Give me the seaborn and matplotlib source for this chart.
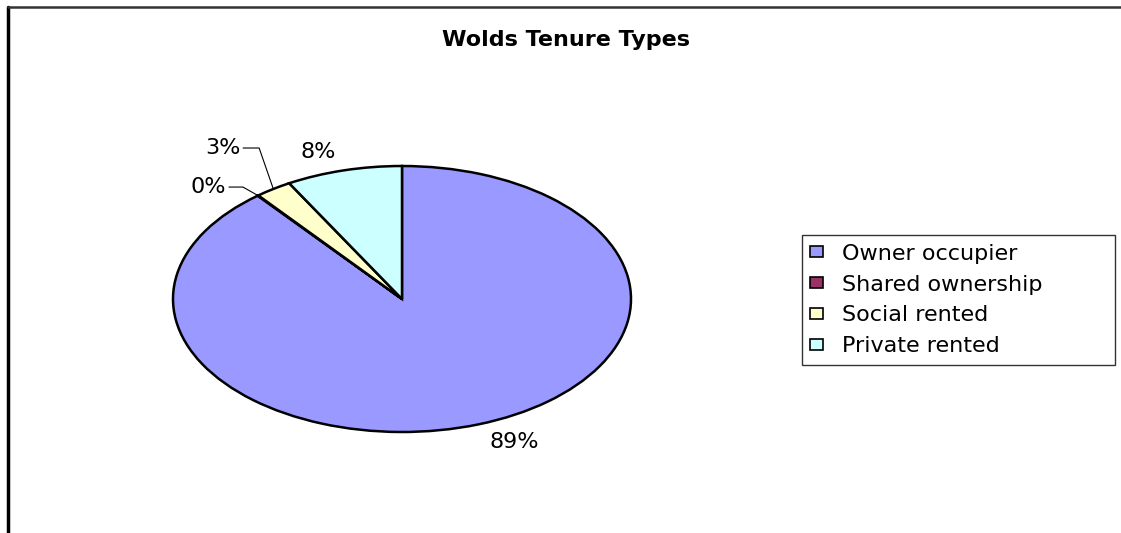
import numpy as np
import matplotlib
matplotlib.use("Agg")
import matplotlib.pyplot as plt
from matplotlib.lines import Line2D
import seaborn as sns

# data
tenure = ["Owner occupier", "Shared ownership", "Social rented", "Private rented"]
share = [89.2, 0.05, 2.6, 8.2]
colours = ["#9999FF", "#993366", "#FFFFCC", "#CCFFFF"]

sns.set_theme(style="white")
plt.rcParams["font.family"] = ["DejaVu Sans"]
plt.rcParams["text.color"] = "black"

W, H = 1121, 533
fig = plt.figure(figsize=(W / 100, H / 100), dpi=100)

# pie is drawn as an ellipse (Excel chart was stretched), radius 1 -> 229 x 133 px
ax = fig.add_axes([58.5 / W, 34.5 / H, 687 / W, 399 / H])
wedges, _ = ax.pie(share, colors=colours, startangle=90, counterclock=False,
                   wedgeprops=dict(edgecolor="black", linewidth=1.8))
ax.set_xlim(-1.5, 1.5)
ax.set_ylim(-1.5, 1.5)
ax.set_aspect("auto")
ax.axis("off")

# leader line offsets for the thin slices (data units: dx/229px, dy/133px)
leaders = {"Social rented": (-0.062, 0.308, -0.07),
           "Shared ownership": (-0.066, 0.064, -0.061)}

for w, name, v in zip(wedges, tenure, share):
    mid = np.deg2rad((w.theta1 + w.theta2) / 2)
    c, s = np.cos(mid), np.sin(mid)
    txt = f"{round(v)}%"
    if name in leaders:
        dx, dy, run = leaders[name]
        x0, y0 = c, s
        x1, y1 = x0 + dx, y0 + dy
        x2 = x1 + run
        ax.plot([x0, x1, x2], [y0, y1, y1], color="black", lw=0.8, clip_on=False)
        ax.text(x2 - 0.012, y1, txt, ha="right", va="center", fontsize=16)
    else:
        ax.text(1.14 * c, 1.14 * s, txt, ha="left" if c > 0 else "right",
                va="center", fontsize=16)

fig.text(566 / W, (H - 40) / H, "Wolds Tenure Types", ha="center", va="center",
         fontsize=16, fontweight="bold")

leg = fig.legend(wedges, tenure, loc="center left",
                 bbox_to_anchor=(802 / W, 168 / H, 313 / W, 130 / H),
                 mode="expand", borderaxespad=0, fontsize=16,
                 handlelength=0.58, handleheight=0.4, handletextpad=0.85,
                 labelspacing=0.49, borderpad=0.38, fancybox=False)
leg.get_frame().set_edgecolor("black")
leg.get_frame().set_linewidth(1.0)
for h in leg.legend_handles:
    h.set_linewidth(1.2)

# chart area border (left and top edges visible)
fig.add_artist(Line2D([8 / W, 8 / W], [0, (H - 7) / H], transform=fig.transFigure,
                      color="black", lw=2.5))
fig.add_artist(Line2D([8 / W, 1], [(H - 7) / H] * 2, transform=fig.transFigure,
                      color="#333333", lw=1.8))

fig.savefig("out.png", dpi=100)
